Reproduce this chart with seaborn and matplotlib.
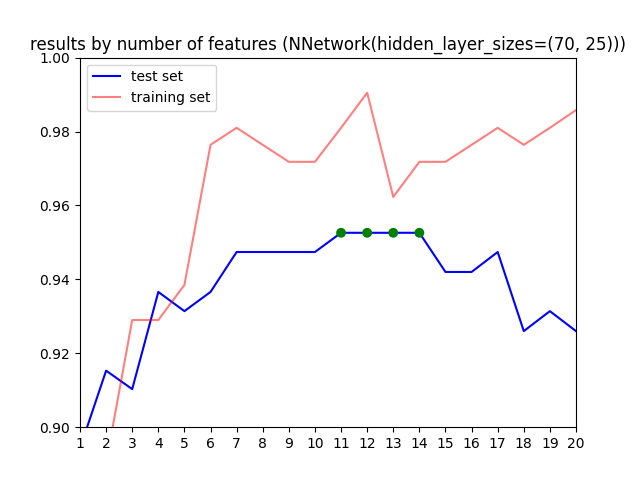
import matplotlib
matplotlib.use("Agg")
import matplotlib.pyplot as plt
import seaborn as sns
import numpy as np

n_features = list(range(1, 21))
test_scores = [0.8943, 0.9153, 0.9103, 0.9366, 0.9314, 0.9366, 0.9474, 0.9474, 0.9474, 0.9474,
               0.9526, 0.9526, 0.9526, 0.9526, 0.9420, 0.9420, 0.9474, 0.9260, 0.9314, 0.9260]
train_scores = [0.8850, 0.8903, 0.9290, 0.9290, 0.9385, 0.9764, 0.9810, 0.9764, 0.9718, 0.9718,
                0.9810, 0.9905, 0.9623, 0.9718, 0.9718, 0.9764, 0.9810, 0.9764, 0.9810, 0.9858]

fig, ax = plt.subplots(figsize=(6.4, 4.8), dpi=100)
sns.lineplot(x=n_features, y=test_scores, color="blue", label="test set", ax=ax)
sns.lineplot(x=n_features, y=train_scores, color="red", alpha=0.5, label="training set", ax=ax)
best = max(test_scores)
bx = [x for x, v in zip(n_features, test_scores) if v == best]
by = [best] * len(bx)
sns.scatterplot(x=bx, y=by, color="green", s=50, edgecolor="none", ax=ax, zorder=3)
ax.set_xlim(1, 20)
ax.set_ylim(0.90, 1.00)
ax.set_xticks(n_features)
ax.set_title("results by number of features (NNetwork(hidden_layer_sizes=(70, 25)))")
ax.legend(loc="upper left")
fig.savefig("out.png")
